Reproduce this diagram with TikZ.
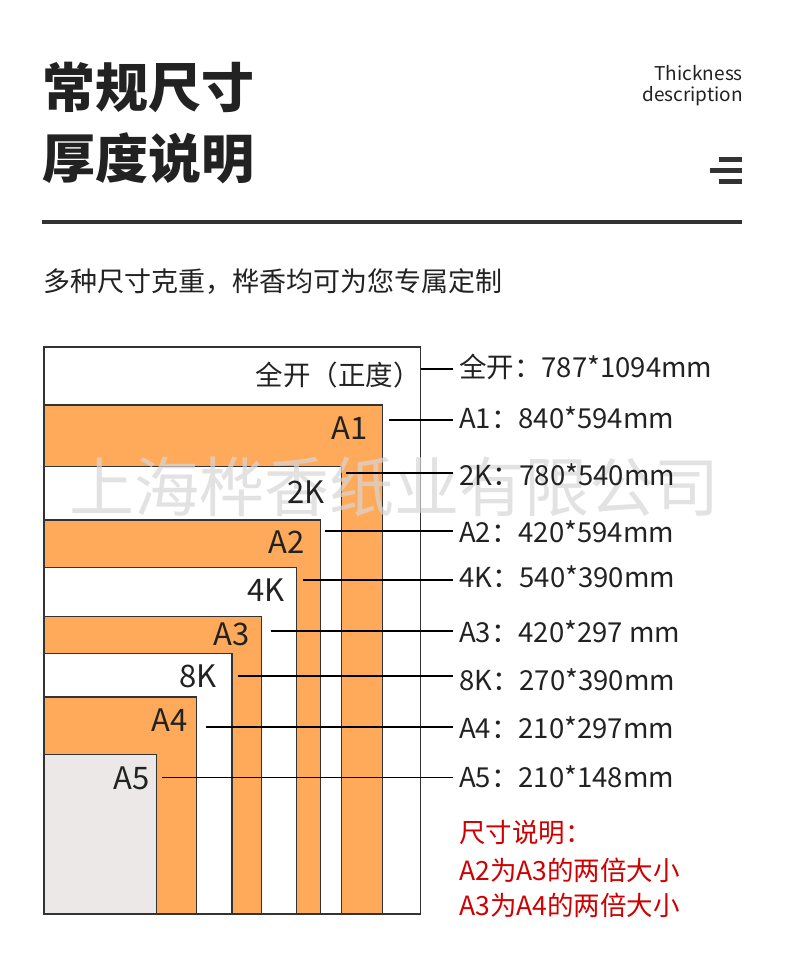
\documentclass[tikz,border=0pt]{standalone}
\usepackage{fontspec}
\setmainfont{Noto Sans CJK SC}
\newfontfamily\cjk{Noto Sans CJK SC}
\definecolor{dark}{HTML}{222222}
\definecolor{rule}{HTML}{333333}
\definecolor{paperorange}{HTML}{FFAA5A}
\definecolor{papergray}{HTML}{ECE8E8}
\definecolor{notered}{HTML}{D00000}
\definecolor{wmark}{HTML}{D6D6D6}
\tikzset{
  sheet/.style={draw=rule, line width=1.3pt},
  orangesheet/.style={sheet, fill=paperorange},
  whitesheet/.style={sheet, fill=white},
  graysheet/.style={sheet, fill=papergray},
  sizelabel/.style={anchor=east, inner sep=0pt, text=dark, font=\fontsize{31}{31}\selectfont},
  spec/.style={anchor=west, inner xsep=6pt, inner ysep=0pt, text=dark, font=\fontsize{27.5}{27.5}\selectfont},
  leader/.style={draw=black, line width=1.6pt},
  rednote/.style={anchor=west, inner sep=0pt, text=notered, font=\fontsize{26.5}{26.5}\selectfont},
}
\begin{document}
\begin{tikzpicture}[x=1pt, y=-1pt]
\useasboundingbox[fill=white] (0,0) rectangle (790,956);

% header
\node[anchor=west, inner sep=0pt, text=dark, font=\fontsize{53}{53}\selectfont\bfseries] (title1) at (42,87) {常规尺寸};
\node[anchor=west, inner sep=0pt, text=dark, font=\fontsize{53}{53}\selectfont\bfseries] (title2) at (42,158) {厚度说明};
\node[anchor=base east, inner sep=0pt, text=dark, font=\fontsize{19}{19}\selectfont] (en1) at (743,80.5) {Thickness};
\node[anchor=base east, inner sep=0pt, text=dark, font=\fontsize{19}{19}\selectfont] (en2) at (743,101) {description};
\fill[rule] (719,157.3) rectangle (742,161.7);
\fill[rule] (710,168.3) rectangle (742,172.7);
\fill[rule] (719,179.3) rectangle (742,183.7);
\draw[rule, line width=4pt] (42,221.7) -- (742,221.7);

\node[anchor=west, inner sep=0pt, text=dark, font=\fontsize{27}{27}\selectfont] (sub) at (43,281.7) {多种尺寸克重，桦香均可为您专属定制};

% nested sheets
\draw[whitesheet]  (44,347)   rectangle (420.7,914);
\draw[orangesheet] (44,405)   rectangle (382.7,914);
\draw[whitesheet]  (44,466.7) rectangle (341.7,914);
\draw[orangesheet] (44,520)   rectangle (320.7,914);
\draw[whitesheet]  (44,567.7) rectangle (296.7,914);
\draw[orangesheet] (44,616.3) rectangle (261.3,914);
\draw[whitesheet]  (44,653.3) rectangle (232,914);
\draw[orangesheet] (44,697)   rectangle (196.3,914);
\draw[graysheet]   (44,754.3) rectangle (156.7,914);

% watermark
\node[inner sep=0pt, text=wmark, opacity=0.7, font=\fontsize{65}{65}\selectfont] (wm) at (394.5,487) {上海桦香纸业有限公司};

% labels inside sheets
\node[sizelabel, font=\fontsize{27.5}{27.5}\selectfont] (lq) at (421,374.7) {全开（正度）};
\node[sizelabel] (l1) at (368,428.5) {A1};
\node[sizelabel] (l2k) at (325,492) {2K};
\node[sizelabel] (l2) at (305,542.5) {A2};
\node[sizelabel] (l4k) at (285,590) {4K};
\node[sizelabel] (l3) at (250,634.5) {A3};
\node[sizelabel] (l8k) at (217,676) {8K};
\node[sizelabel] (l4) at (188,720.5) {A4};
\node[sizelabel] (l5) at (150,778.5) {A5};

% specification texts
\node[spec] (tq)  at (453,366.7) {全开：787*1094mm};
\node[spec] (t1)  at (453,417.3) {A1：840*594mm};
\node[spec] (t2k) at (453,475)   {2K：780*540mm};
\node[spec] (t2)  at (453,531.7) {A2：420*594mm};
\node[spec] (t4k) at (453,576.7) {4K：540*390mm};
\node[spec] (t3)  at (453,631.7) {A3：420*297 mm};
\node[spec] (t8k) at (453,679.3) {8K：270*390mm};
\node[spec] (t4)  at (453,727.7) {A4：210*297mm};
\node[spec] (t5)  at (453,776.7) {A5：210*148mm};

% leader start points
\coordinate (cq)  at (420.7,369);
\coordinate (c1)  at (389,420);
\coordinate (c2k) at (346,472.7);
\coordinate (c2)  at (325,531);
\coordinate (c4k) at (302.7,580);
\coordinate (c3)  at (270.7,630.7);
\coordinate (c8k) at (238.3,676);
\coordinate (c4)  at (206,726.7);
\coordinate (c5)  at (162,777.3);
\foreach \s/\t in {cq/tq, c1/t1, c2k/t2k, c2/t2, c4k/t4k, c3/t3, c8k/t8k, c4/t4, c5/t5}
  \draw[leader] (\s) -- (\s -| \t.west);

% notes
\node[rednote] (n1) at (459,833) {尺寸说明：};
\node[rednote] (n2) at (459,870) {A2为A3的两倍大小};
\node[rednote] (n3) at (459,905) {A3为A4的两倍大小};
\end{tikzpicture}
\end{document}
